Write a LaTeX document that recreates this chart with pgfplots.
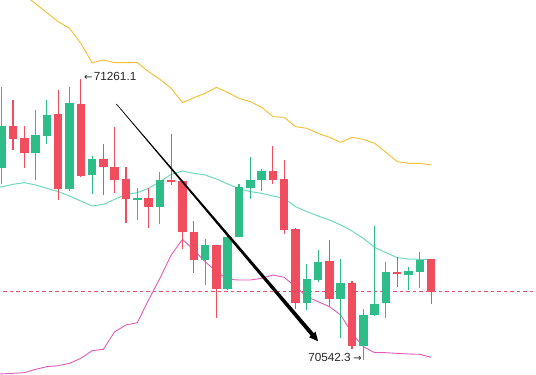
\documentclass[border=0pt]{standalone}
\usepackage{fontspec}
\setmainfont{Liberation Sans}
\newfontfamily\djv{DejaVu Sans}
\usepackage{pgfplots}
\usepackage{pgfplotstable}
\pgfplotsset{compat=1.18}
\usetikzlibrary{calc}
\definecolor{cgreen}{HTML}{2EBD88}
\definecolor{cred}{HTML}{F04E5E}
\definecolor{cmid}{HTML}{70DAC0}
\definecolor{cup}{HTML}{F5BE30}
\definecolor{clow}{HTML}{E25CB8}
\definecolor{cdash}{HTML}{E8506E}
\pgfplotstableread{
i o h l c
0 71033.9 71239.8 70990.6 71139.4
3 71071.4 71180.3 71001.6 71116.5
4 71114.8 71207.5 71093.5 71170.1
6 70977.8 71239.8 70975.0 71198.1
8 71013.5 71062.9 70967.6 71055.2
12 70952.3 70982.1 70901.2 70957.4
14 70933.6 71022.9 70891.0 71003.3
18 70798.3 70852.7 70736.2 70835.7
20 70724.3 70858.7 70723.0 70858.7
21 70857.0 70993.1 70856.0 70983.8
22 70982.1 71061.2 70952.3 71003.3
23 71003.3 71031.4 70974.4 71024.6
27 70688.6 70787.2 70669.8 70748.1
28 70748.1 70825.5 70742.2 70794.9
30 70699.6 70801.7 70600.1 70739.6
32 70578.8 70674.1 70542.3 70657.1
33 70657.1 70886.8 70656.0 70686.9
34 70686.9 70793.2 70651.1 70766.0
36 70760.9 70780.4 70722.6 70769.4
37 70767.7 70818.7 70725.1 70800.0
}\greentab
\pgfplotstableread{
i o h l c
1 71139.4 71205.8 71078.2 71107.1
2 71108.8 71141.1 71033.1 71071.4
5 71170.1 71233.0 70952.3 70977.8
7 71198.1 71261.1 71011.0 71013.5
9 71055.2 71093.5 70965.0 71035.6
10 71037.4 71137.7 70969.3 71003.3
11 71004.2 71035.6 70891.0 70952.3
13 70957.4 70980.4 70878.3 70933.6
15 71003.3 71120.7 70988.9 70997.4
16 70999.1 71000.0 70827.2 70870.6
17 70870.6 70899.5 70766.0 70798.3
19 70835.7 70836.5 70651.1 70724.3
24 71024.6 71088.4 70992.3 71003.3
25 71004.2 71052.7 70865.5 70874.0
26 70876.6 70880.0 70674.1 70688.6
29 70794.9 70848.5 70680.9 70699.6
31 70739.6 70743.9 70572.0 70578.8
35 70766.0 70806.0 70731.1 70760.9
38 70800.0 70801.0 70686.9 70716.6
}\redtab
\begin{document}
\begin{tikzpicture}
\begin{axis}[
  scale only axis, width=536bp, height=397bp,
  hide axis, clip=true,
  xmin=-0.15, xmax=47.28, ymin=70447.8, ymax=71461,
  candle/.style={only marks, mark=*, mark size=0pt,
    mark options={draw opacity=0, fill opacity=0},
    error bars/y dir=both, error bars/y explicit, error bars/error mark=none},
]
% Bollinger bands
\addplot[cup, line width=0.9bp, mark=none] coordinates {
(0,71520) (1,71497) (2,71474) (3,71451.6) (4,71428.7) (5,71405.7) (6,71388.7) (7,71350.4)
(8,71301.1) (9,71307.9) (10,71301.1) (11,71301.1) (12,71301.1) (13,71278.1) (14,71258.5)
(15,71235.6) (16,71199.0) (17,71211.7) (18,71222.8) (19,71238.1) (20,71225.0) (21,71210.0)
(22,71201.5) (23,71187.1) (24,71163.3) (25,71161.6) (26,71137.7) (27,71133.5) (28,71120.7)
(29,71110.5) (30,71097.7) (31,71110.5) (32,71105.4) (33,71095.2) (34,71072.2) (35,71048.4)
(36,71044.2) (37,71044.2) (38,71039.9)};
\addplot[cmid, line width=1bp, mark=none] coordinates {
(-0.2,70982.9) (1,70990.6) (2,70994.8) (3,70988.9) (4,70980.4) (5,70971.9) (6,70960.8) (7,70948.0)
(8,70935.3) (9,70939.5) (10,70952.3) (11,70965.0) (12,70969.3) (13,70980.4) (14,70997.4)
(15,71016.1) (16,71024.6) (17,71018.6) (18,71014.4) (19,71004.2) (20,70991.4) (21,70979.5)
(22,70971.9) (23,70967.6) (24,70960.8) (25,70954.8) (26,70933.6) (27,70920.8) (28,70909.7)
(29,70899.5) (30,70886.8) (31,70871.5) (32,70852.7) (33,70829.8) (34,70816.2) (35,70803.4)
(36,70800.0) (37,70799.1) (38,70799.1)};
\addplot[clow, line width=0.9bp, mark=none] coordinates {
(-0.2,70506.5) (1,70508.2) (2,70509.9) (3,70518.4) (4,70525.2) (5,70527.8) (6,70533.7) (7,70546.5)
(8,70566.1) (9,70569.5) (10,70614.6) (11,70631.6) (12,70637.5) (13,70695.4) (14,70750.7)
(15,70810.2) (16,70850.2) (17,70823.0) (18,70793.2) (19,70767.7) (20,70748.1) (21,70746.4)
(22,70746.4) (23,70750.7) (24,70759.2) (25,70753.2) (26,70729.4) (27,70703.9) (28,70691.1)
(29,70678.4) (30,70657.1) (31,70610.3) (32,70576.3) (33,70560.9) (34,70560.9) (35,70559.2)
(36,70557.5) (37,70556.7) (38,70549.0)};
% dashed price line
\addplot[cdash, line width=1bp, dash pattern=on 3.5bp off 3bp, mark=none] coordinates {(-1,70718.3) (48,70718.3)};
% wicks
\addplot[candle, error bars/error bar style={cgreen, line width=1.1bp}]
  table[x=i, y expr={(\thisrow{h}+\thisrow{l})/2}, y error expr={(\thisrow{h}-\thisrow{l})/2}] {\greentab};
\addplot[candle, error bars/error bar style={cred, line width=1.1bp}]
  table[x=i, y expr={(\thisrow{h}+\thisrow{l})/2}, y error expr={(\thisrow{h}-\thisrow{l})/2}] {\redtab};
% bodies
\addplot[candle, error bars/error bar style={cgreen, line width=8.5bp}]
  table[x=i, y expr={(\thisrow{o}+\thisrow{c})/2}, y error expr={max(abs(\thisrow{o}-\thisrow{c})/2,1.0)}] {\greentab};
\addplot[candle, error bars/error bar style={cred, line width=8.5bp}]
  table[x=i, y expr={(\thisrow{o}+\thisrow{c})/2}, y error expr={max(abs(\thisrow{o}-\thisrow{c})/2,1.0)}] {\redtab};
% trend arrow
\coordinate (A) at (axis cs:10.15,71195.6);
\coordinate (B) at (axis cs:28.0,70590.0);
\coordinate (H) at ($(B)!9bp!(A)$);
\fill[black] ($(A)!0.3bp!90:(B)$) -- ($(H)!2bp!-90:(A)$) -- ($(H)!4.3bp!-90:(A)$) -- (B)
  -- ($(H)!4.3bp!90:(A)$) -- ($(H)!2bp!90:(A)$) -- ($(A)!0.3bp!-90:(B)$) -- cycle;
% labels
\node[anchor=west, inner sep=0pt, text=black!85, font=\fontsize{11.8}{12}\selectfont] at ([xshift=3bp,yshift=2bp]axis cs:7,71261.1) {{\djv\fontsize{10}{10}\selectfont ←}\kern1.5bp 71261.1};
\node[anchor=east, inner sep=0pt, text=black!85, font=\fontsize{11.8}{12}\selectfont] at ([xshift=-1.5bp,yshift=3bp]axis cs:32,70542.3) {70542.3\kern2.5bp{\djv\fontsize{10}{10}\selectfont →}};
\end{axis}
\end{tikzpicture}
\end{document}
